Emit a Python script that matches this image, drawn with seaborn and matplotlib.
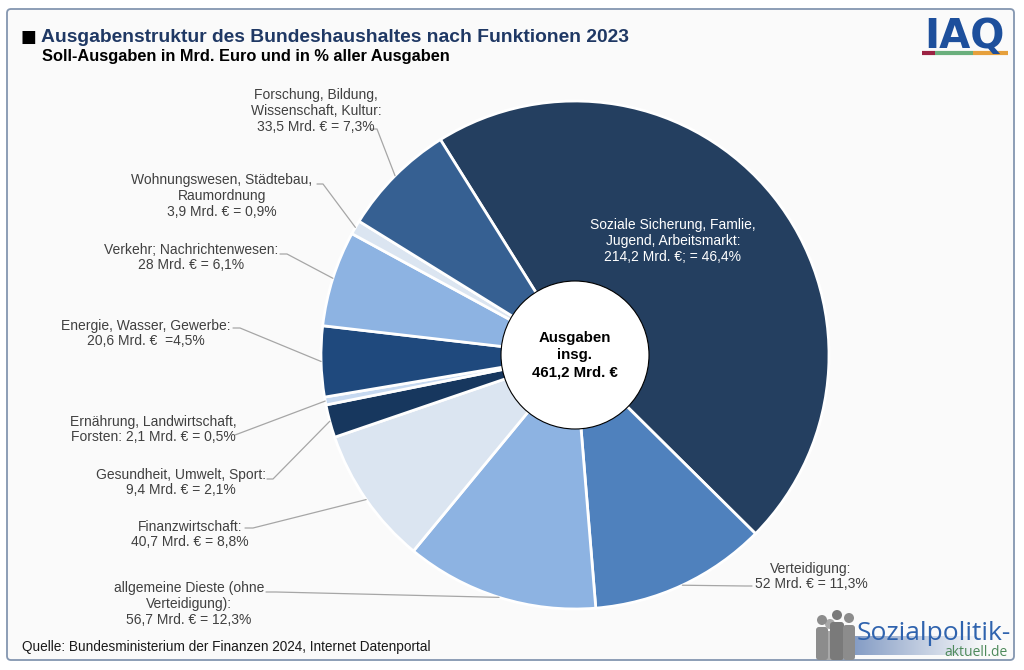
import numpy as np
import matplotlib.pyplot as plt
import seaborn as sns
from matplotlib.patches import FancyBboxPatch, Circle
from matplotlib.colors import LinearSegmentedColormap

# Daten: Ausgaben des Bundeshaushaltes 2023 nach Funktionen (Reihenfolge im Uhrzeigersinn)
bereiche = [
    "Soziale Sicherung", "Verteidigung", "allgemeine Dienste", "Finanzwirtschaft",
    "Gesundheit", "Ernährung", "Energie", "Verkehr", "Wohnungswesen", "Forschung",
]
mrd_euro = [214.2, 52.0, 56.7, 40.7, 9.4, 2.1, 20.6, 28.0, 3.9, 33.5]
anteil = [46.4, 11.3, 12.3, 8.8, 2.1, 0.5, 4.5, 6.1, 0.9, 7.3]
label_texte = [
    "Soziale Sicherung, Famlie,\nJugend, Arbeitsmarkt:\n214,2 Mrd. €; = 46,4%",
    "Verteidigung:\n52 Mrd. € = 11,3%",
    "allgemeine Dieste (ohne\nVerteidigung):\n56,7 Mrd. € = 12,3%",
    "Finanzwirtschaft:\n40,7 Mrd. € = 8,8%",
    "Gesundheit, Umwelt, Sport:\n9,4 Mrd. € = 2,1%",
    "Ernährung, Landwirtschaft,\nForsten: 2,1 Mrd. € = 0,5%",
    "Energie, Wasser, Gewerbe:\n20,6 Mrd. €  =4,5%",
    "Verkehr; Nachrichtenwesen:\n28 Mrd. € = 6,1%",
    "Wohnungswesen, Städtebau,\nRaumordnung\n3,9 Mrd. € = 0,9%",
    "Forschung, Bildung,\nWissenschaft, Kultur:\n33,5 Mrd. € = 7,3%",
]
summe_text = "Ausgaben\ninsg.\n461,2 Mrd. €"
farben = ["#243F60", "#4F81BD", "#8DB3E2", "#DBE5F1", "#17375E",
          "#C6D9F1", "#1F497D", "#8DB3E2", "#DBE5F1", "#366092"]

sns.set_theme(style="white")
plt.rcParams['font.family'] = ['Liberation Sans', 'DejaVu Sans']

W, H = 1024, 670


def Y(y):
    # Pixelzeile (von oben) -> Datenkoordinate (von unten)
    return H - y


fig = plt.figure(figsize=(10.24, 6.70), dpi=100, facecolor="white")
ax = fig.add_axes([0, 0, 1, 1])

# Rahmen
ax.add_patch(FancyBboxPatch((7, Y(660)), 1007, 651,
                            boxstyle="round,pad=0,rounding_size=4",
                            fc="#FAFAFA", ec="#8496B0", lw=1.3, zorder=0))

# Kreisdiagramm
cx, cy, r = 575, Y(355), 254
wedges, _ = ax.pie(anteil, colors=farben, startangle=122, counterclock=False,
                   center=(cx, cy), radius=r,
                   wedgeprops=dict(edgecolor="white", linewidth=2))

ax.add_patch(Circle((cx, cy), 74, fc="white", ec="black", lw=0.8, zorder=3))
ax.text(cx, cy, summe_text, ha="center", va="center", fontsize=10.8,
        fontweight="bold", color="black", linespacing=1.3, zorder=4)

# Beschriftungen: (Textmitte x, y), Start der Führungslinie, Ende des Stummels
label_pos = [
    (673, 241, None, None),
    (811, 576.5, (752, 586), (745, 586)),
    (189, 604, (266, 592), (276, 592)),
    (190, 534.5, (245, 528), (253, 528)),
    (181, 482.5, (267, 479), (273, 479)),
    (153, 429.5, (235, 435), (235, 435)),
    (146, 333.5, (233, 328), (240, 328)),
    (191, 257.5, (280, 254), (287, 254)),
    (222, 196, (317, 184), (323, 184)),
    (316, 111, (370, 129), (377, 129)),
]

for w, txt, (tx, ty, start, stub) in zip(wedges, label_texte, label_pos):
    if start is None:
        ax.text(tx, Y(ty), txt, ha="center", va="center", fontsize=10,
                color="white", linespacing=1.15, zorder=4)
        continue
    ax.text(tx, Y(ty), txt, ha="center", va="center", fontsize=10,
            color="#404040", linespacing=1.15, zorder=4)
    ang = np.deg2rad((w.theta1 + w.theta2) / 2)
    ex, ey = cx + r * np.cos(ang), cy + r * np.sin(ang)
    ax.plot([start[0], stub[0], ex], [Y(start[1]), Y(stub[1]), ey],
            color="#A6A6A6", lw=0.9, zorder=2)

# Titel
ax.text(21, Y(37), "■", ha="left", va="center", fontsize=12, color="black",
        family=['DejaVu Sans'])
ax.text(41, Y(37), "Ausgabenstruktur des Bundeshaushaltes nach Funktionen 2023",
        ha="left", va="center", fontsize=13.9, fontweight="bold", color="#1F3864")
ax.text(42, Y(57), "Soll-Ausgaben in Mrd. Euro und in % aller Ausgaben",
        ha="left", va="center", fontsize=11.8, fontweight="bold", color="black")

# Quelle
ax.text(22, Y(647), "Quelle: Bundesministerium der Finanzen 2024, Internet Datenportal",
        ha="left", va="center", fontsize=9.8, color="#1A1A1A")

# IAQ-Logo
ax.text(964, Y(48), "IAQ", ha="center", va="baseline", fontsize=29,
        fontweight="bold", color="#1D4F9C", family=["DejaVu Sans"])
ax.plot([922, 935], [Y(53), Y(53)], color="#9B2242", lw=3, solid_capstyle="butt")
ax.plot([935, 973], [Y(53), Y(53)], color="#6AAF7C", lw=3, solid_capstyle="butt")
ax.plot([973, 1008], [Y(53), Y(53)], color="#E6A03C", lw=3, solid_capstyle="butt")

# Sozialpolitik-aktuell Logo
grad_cmap = LinearSegmentedColormap.from_list("grad", ["#7F98C2", "#FAFAFA"])
ax.imshow(np.linspace(0, 1, 256).reshape(1, -1), extent=[848, 985, Y(655), Y(636)],
          cmap=grad_cmap, aspect="auto", zorder=1)
for hx, hy, bx, bw, col in [(830, 624, 824, 13, "#A8A8A8"), (822, 620, 816, 12, "#8C8C8C"),
                            (837, 615, 830, 14, "#7A7A7A"), (849, 618, 843, 12, "#8C8C8C")]:
    ax.add_patch(Circle((hx, Y(hy)), 5, fc=col, ec="none", zorder=2))
    ax.add_patch(FancyBboxPatch((bx, Y(660)), bw, 660 - hy - 7,
                                boxstyle="round,pad=0,rounding_size=3",
                                fc=col, ec="none", zorder=2))
ax.text(1011, Y(640), "Sozialpolitik-", ha="right", va="baseline", fontsize=19,
        color="#2F63AE", family=["Open Sans", "DejaVu Sans"])
ax.text(1008, Y(653), "aktuell.de", ha="right", va="center", fontsize=10,
        color="#4E8A5B", family=["Open Sans", "DejaVu Sans"])

ax.set_xlim(0, W)
ax.set_ylim(0, H)
ax.set_aspect("equal")
ax.axis("off")

fig.savefig("out.png", dpi=100, facecolor="white")
